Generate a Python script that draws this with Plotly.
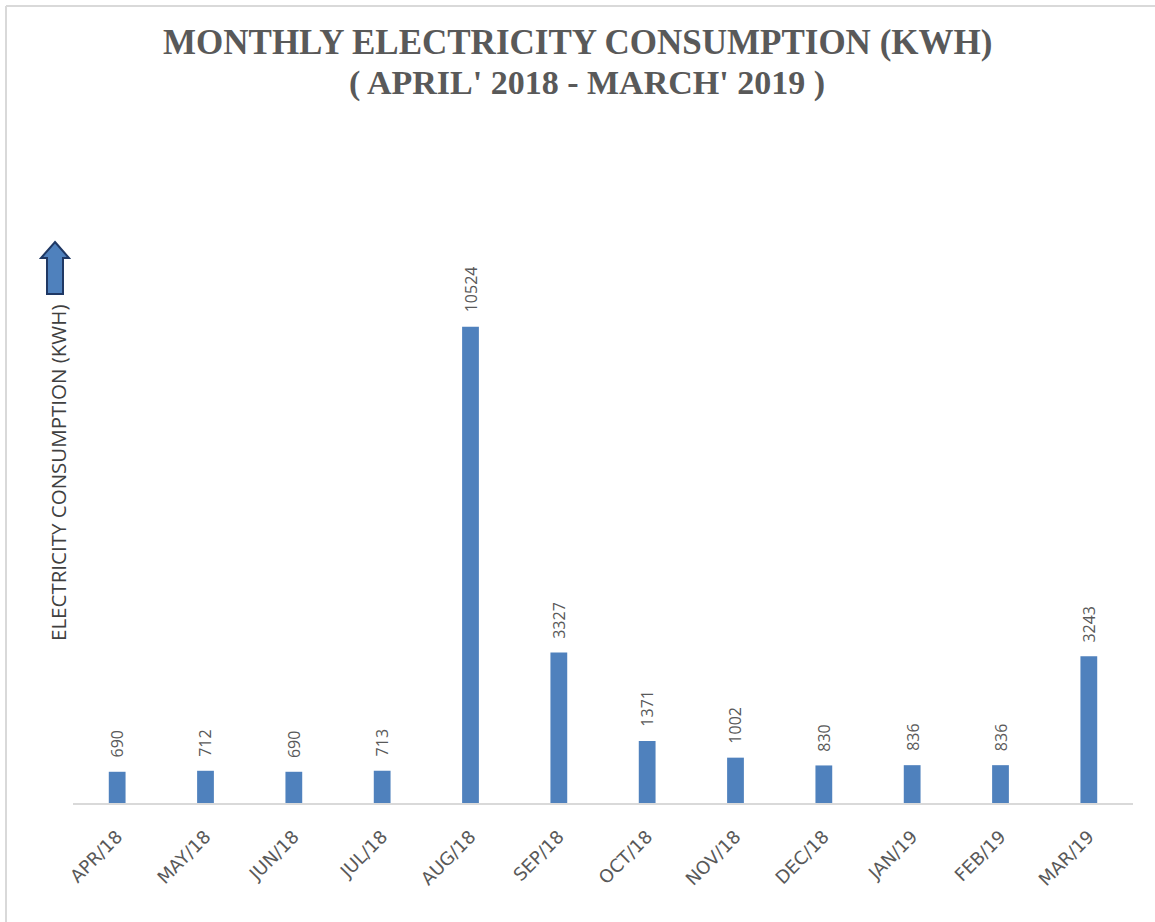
import plotly.graph_objects as go

months = ["APR/18", "MAY/18", "JUN/18", "JUL/18", "AUG/18", "SEP/18",
          "OCT/18", "NOV/18", "DEC/18", "JAN/19", "FEB/19", "MAR/19"]
consumption = [690, 712, 690, 713, 10524, 3327, 1371, 1002, 830, 836, 836, 3243]

title_line1 = "MONTHLY ELECTRICITY CONSUMPTION (KWH)"
title_line2 = "( APRIL' 2018 - MARCH' 2019 )"
y_title = "ELECTRICITY CONSUMPTION (KWH)"

W, H = 1155, 922
ML, MR, MT, MB = 73, 22, 260, 119
PW, PH = W - ML - MR, H - MT - MB


def px(x):
    return (x - ML) / PW


def py(y):
    return (H - MB - y) / PH


BAR = "#4f81bd"
GREY = "#595959"

fig = go.Figure()
fig.add_trace(go.Bar(
    x=months, y=consumption,
    marker=dict(color=BAR, line=dict(width=0)),
    hoverinfo="x+y",
))

annotations = []
for m, v in zip(months, consumption):
    annotations.append(dict(
        x=m, y=v, xref="x", yref="y", text=str(v), showarrow=False,
        textangle=-90, yanchor="bottom", yshift=12,
        font=dict(family="Open Sans", size=16, color=GREY),
    ))

annotations.append(dict(
    x=px(58), y=py(473), xref="paper", yref="paper", text=y_title,
    showarrow=False, textangle=-90, xanchor="center", yanchor="middle",
    font=dict(family="Open Sans", size=20.5, color="#404040"),
))
annotations.append(dict(
    x=px(577), y=py(63), xref="paper", yref="paper",
    text="<b>" + title_line1 + "</b>", showarrow=False,
    xanchor="center", yanchor="bottom", borderpad=0,
    font=dict(family="Liberation Serif", size=35, color=GREY),
))
annotations.append(dict(
    x=px(587), y=py(63), xref="paper", yref="paper",
    text="<b>" + title_line2 + "</b>", showarrow=False,
    xanchor="center", yanchor="top", borderpad=0,
    font=dict(family="Liberation Serif", size=34, color=GREY),
))

# arrow beside y-axis title
ax = [px(55), px(69), px(63), px(63), px(47), px(47), px(41)]
ay = [py(242), py(258), py(258), py(294), py(294), py(258), py(258)]
path = "M " + " L ".join(f"{a},{b}" for a, b in zip(ax, ay)) + " Z"

shapes = [
    dict(type="path", xref="paper", yref="paper", path=path,
         fillcolor=BAR, line=dict(color="#1f3864", width=2)),
    # frame lines (top and left)
    dict(type="line", xref="paper", yref="paper",
         x0=px(6), x1=px(1155), y0=py(6), y1=py(6),
         line=dict(color="#d9d9d9", width=2)),
    dict(type="line", xref="paper", yref="paper",
         x0=px(6), x1=px(6), y0=py(6), y1=py(922),
         line=dict(color="#d9d9d9", width=2)),
]

fig.update_layout(
    width=W, height=H,
    margin=dict(l=ML, r=MR, t=MT, b=MB),
    paper_bgcolor="white", plot_bgcolor="white",
    showlegend=False,
    bargap=0.81,
    annotations=annotations,
    shapes=shapes,
    xaxis=dict(
        showline=True, linecolor="#d9d9d9", linewidth=2,
        showgrid=False, ticks="", tickangle=-45,
        ticklabelstandoff=14,
        tickfont=dict(family="DejaVu Sans", size=18, color=GREY),
        fixedrange=True,
    ),
    yaxis=dict(
        range=[0, 12000], showline=False, showgrid=False,
        showticklabels=False, zeroline=False, ticks="",
        fixedrange=True,
    ),
)

fig.write_html("out.html", config={"displayModeBar": False})
